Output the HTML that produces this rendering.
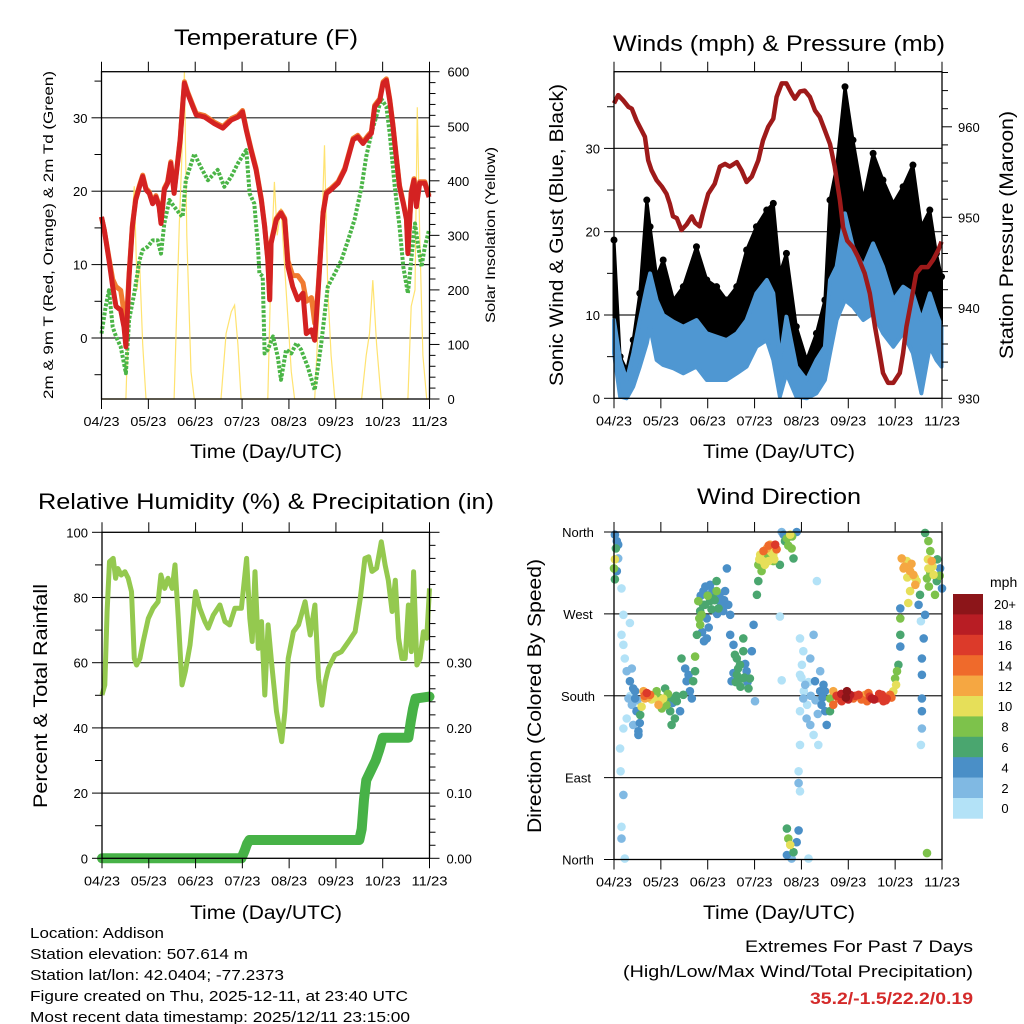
<!DOCTYPE html>
<html><head><meta charset="utf-8"><style>
html,body{margin:0;padding:0;background:#fff}
svg{display:block}
text{font-family:"Liberation Sans",sans-serif;fill:#000}
</style></head><body>
<svg id="chart" xmlns="http://www.w3.org/2000/svg" width="1024" height="1024" viewBox="0 0 1024 1024">
<rect x="0" y="0" width="1024" height="1024" fill="#fff"/>
<g id="g1"></g>
<g id="g2"></g>
<g id="g3"></g>
<g id="g4"></g>
<text x="266" y="45" font-size="22" text-anchor="middle" textLength="184" lengthAdjust="spacingAndGlyphs">Temperature (F)</text>
<text x="779" y="51" font-size="22" text-anchor="middle" textLength="332" lengthAdjust="spacingAndGlyphs">Winds (mph) &amp; Pressure (mb)</text>
<text x="266" y="509" font-size="22" text-anchor="middle" textLength="456" lengthAdjust="spacingAndGlyphs">Relative Humidity (%) &amp; Precipitation (in)</text>
<text x="779" y="504" font-size="22" text-anchor="middle" textLength="164" lengthAdjust="spacingAndGlyphs">Wind Direction</text>
<text x="266" y="458" font-size="19" text-anchor="middle" textLength="152" lengthAdjust="spacingAndGlyphs">Time (Day/UTC)</text>
<text x="779" y="458" font-size="19" text-anchor="middle" textLength="152" lengthAdjust="spacingAndGlyphs">Time (Day/UTC)</text>
<text x="266" y="919" font-size="19" text-anchor="middle" textLength="152" lengthAdjust="spacingAndGlyphs">Time (Day/UTC)</text>
<text x="779" y="919" font-size="19" text-anchor="middle" textLength="152" lengthAdjust="spacingAndGlyphs">Time (Day/UTC)</text>
<text transform="translate(53,235) rotate(-90)" font-size="14" text-anchor="middle" textLength="328" lengthAdjust="spacingAndGlyphs">2m &amp; 9m T (Red, Orange) &amp; 2m Td (Green)</text>
<text transform="translate(495,235) rotate(-90)" font-size="14" text-anchor="middle" textLength="176" lengthAdjust="spacingAndGlyphs">Solar Insolation (Yellow)</text>
<text transform="translate(563,235) rotate(-90)" font-size="19" text-anchor="middle" textLength="302" lengthAdjust="spacingAndGlyphs">Sonic Wind &amp; Gust (Blue, Black)</text>
<text transform="translate(1013,235) rotate(-90)" font-size="19" text-anchor="middle" textLength="248" lengthAdjust="spacingAndGlyphs">Station Pressure (Maroon)</text>
<text transform="translate(47,696) rotate(-90)" font-size="19" text-anchor="middle" textLength="224" lengthAdjust="spacingAndGlyphs">Percent &amp; Total Rainfall</text>
<text transform="translate(541,696) rotate(-90)" font-size="19" text-anchor="middle" textLength="274" lengthAdjust="spacingAndGlyphs">Direction (Colored By Speed)</text>
<g font-size="15">
<text x="30" y="938" textLength="134" lengthAdjust="spacingAndGlyphs">Location: Addison</text>
<text x="30" y="959" textLength="218" lengthAdjust="spacingAndGlyphs">Station elevation: 507.614 m</text>
<text x="30" y="980" textLength="254" lengthAdjust="spacingAndGlyphs">Station lat/lon: 42.0404; -77.2373</text>
<text x="30" y="1001" textLength="378" lengthAdjust="spacingAndGlyphs">Figure created on Thu, 2025-12-11, at 23:40 UTC</text>
<text x="30" y="1022" textLength="380" lengthAdjust="spacingAndGlyphs">Most recent data timestamp: 2025/12/11 23:15:00</text>
</g>
<text x="973" y="952" font-size="17" text-anchor="end" textLength="228" lengthAdjust="spacingAndGlyphs">Extremes For Past 7 Days</text>
<text x="973" y="977" font-size="17" text-anchor="end" textLength="350" lengthAdjust="spacingAndGlyphs">(High/Low/Max Wind/Total Precipitation)</text>
<text x="973" y="1004" font-size="17" font-weight="bold" text-anchor="end" textLength="163" lengthAdjust="spacingAndGlyphs" style="fill:#d42a2a">35.2/-1.5/22.2/0.19</text>
</svg>
<script>
// ---------- Data ----------
const dayLabels = ["04/23","05/23","06/23","07/23","08/23","09/23","10/23","11/23"];
// Temperature (days, F)
const tempT = [0,0.06,0.16,0.24,0.31,0.41,0.48,0.52,0.59,0.66,0.73,0.81,0.88,0.95,1.02,1.09,1.16,1.23,1.27,1.34,1.41,1.48,1.55,1.63,1.68,1.73,1.77,1.84,1.95,2.02,2.20,2.41,2.59,2.77,2.91,3.01,3.09,3.19,3.30,3.41,3.48,3.55,3.59,3.62,3.73,3.83,3.91,3.98,4.08,4.19,4.30,4.37,4.48,4.55,4.62,4.73,4.80,4.90,5.05,5.19,5.37,5.47,5.58,5.69,5.76,5.83,5.94,6.01,6.08,6.15,6.22,6.29,6.36,6.44,6.51,6.54,6.61,6.67,6.72,6.79,6.90,6.99];
const temp2m = [16.5,14.7,10.6,7.0,4.3,3.8,1.5,-1.2,8.4,15.2,18.8,20.6,22.0,20.2,19.7,18.3,19.2,17.9,15.6,20.2,21.1,23.8,19.7,24.2,27.0,31.5,34.7,33.3,31.5,30.4,30.1,29.2,28.6,29.7,30.1,30.8,28.3,25.6,22.9,18.8,15.2,10.6,5.2,12.9,16.1,17.0,16.1,9.7,7.0,5.2,6.1,0.6,1.1,-0.3,6.1,17.0,19.7,20.2,21.1,22.9,27.0,27.4,26.5,27.4,27.9,31.5,32.4,34.7,35.1,32.4,28.8,24.7,20.6,18.3,16.1,11.5,19.7,21.5,17.9,21.1,21.1,19.2];
const temp9m = [16.5,14.7,10.9,8.0,7.0,6.5,3.5,1.0,8.8,15.4,19.0,20.8,22.2,20.4,19.9,18.5,19.4,18.1,15.8,20.4,21.3,24.0,19.9,24.4,27.2,31.7,34.9,33.5,31.7,30.6,30.3,29.4,28.8,29.9,30.3,31.0,28.5,25.8,23.1,19.0,15.4,10.8,5.4,13.1,16.3,17.2,16.3,10.5,8.5,8.5,7.5,5.0,5.5,2.0,6.5,17.2,19.9,20.4,21.3,23.1,27.2,27.6,26.7,27.6,28.1,31.7,32.6,34.9,35.3,32.6,29.0,24.9,20.8,18.5,16.3,11.7,19.9,21.7,18.1,21.3,21.3,19.4];
const dewT = [0,0.09,0.16,0.24,0.31,0.41,0.52,0.59,0.70,0.81,0.88,0.98,1.09,1.20,1.27,1.34,1.45,1.55,1.66,1.73,1.80,1.98,2.12,2.27,2.48,2.62,2.77,2.91,3.09,3.16,3.26,3.34,3.37,3.44,3.48,3.55,3.66,3.76,3.83,3.94,4.05,4.16,4.26,4.40,4.55,4.62,4.69,4.83,4.98,5.12,5.26,5.40,5.55,5.65,5.76,5.90,5.97,6.08,6.15,6.26,6.36,6.44,6.54,6.61,6.69,6.76,6.83,6.90,6.99];
const dewV = [0.6,4.3,6.5,1.5,0.2,-1.2,-4.8,2.5,6.1,10.6,12.0,12.4,13.3,13.3,11.5,15.6,18.8,17.9,17.0,16.5,21.5,25.1,23.3,21.5,22.9,20.6,22.0,23.8,25.6,19.7,18.3,12.4,8.8,8.4,-2.1,-1.6,0.2,-2.5,-5.7,-1.6,-2.1,-0.7,-1.6,-3.9,-7.1,-3.9,-0.7,7.0,8.8,10.6,13.3,16.1,20.6,24.7,27.9,31.0,32.6,31.5,27.9,20.6,15.2,9.7,6.1,10.6,15.6,12.4,9.7,12.4,14.7];
const solarT = [0,0.52,0.63,0.70,0.76,0.81,0.88,0.95,1.55,1.66,1.71,1.77,1.82,1.91,1.98,2.55,2.66,2.77,2.84,2.91,2.98,3.55,3.62,3.69,3.75,3.83,3.94,4.05,4.12,4.55,4.66,4.76,4.83,4.90,4.98,5.55,5.65,5.72,5.79,5.87,5.97,6.54,6.61,6.69,6.74,6.79,6.86,6.94,7.0];
const solarV = [0,0,300,390,200,255,100,0,0,320,430,600,300,50,0,0,120,160,172,100,0,0,250,398,300,350,200,50,0,0,200,465,200,80,0,0,80,120,218,100,0,0,170,200,535,300,80,0,0];
// Winds
const windT = [0,0.13,0.27,0.41,0.55,0.70,0.77,0.91,1.05,1.27,1.48,1.76,1.98,2.19,2.40,2.62,2.83,3.04,3.26,3.40,3.54,3.68,3.89,4.11,4.32,4.50,4.61,4.75,4.93,5.10,5.32,5.53,5.74,5.96,6.17,6.38,6.56,6.74,6.88,6.99];
const windLo = [5.4,0.2,0,1.4,3.8,6.6,8.6,4.6,4,3.6,3,3.8,2.2,2.2,2.2,3,3.8,6.2,7,4.6,0.2,3,0.2,0,0.6,2.2,5.4,9.4,11.8,11,9.4,10.2,7.8,6.2,7.8,5.4,0.6,6.2,4.6,3.8];
const windHi = [9.4,4.6,2.2,5.4,9.4,13.4,15,11.8,10,9.2,8.6,9.4,7.8,7.4,7,7.8,9.4,12.6,14.2,12.6,4.6,9.8,3.8,2.2,4.6,6.2,14.2,15.8,22.2,18.2,15.8,18.6,15.8,11.8,13.4,12.6,9.4,12.6,10.2,8.6];
const gustHi = [19,5,3.4,7,12.6,23.8,20.6,14.6,16.6,11.8,13.4,18.2,14.2,13.4,11.8,13.4,17.8,20.6,22.6,23.4,15,17.4,8.6,4.6,7.8,11.8,23.8,27.8,37.4,31,23.8,29.4,26.2,23.4,25.4,28,20.6,22.6,17.4,14.6];
const presT = [0,0.09,0.20,0.31,0.38,0.48,0.59,0.66,0.73,0.80,0.91,1.02,1.12,1.19,1.26,1.34,1.44,1.55,1.66,1.73,1.83,1.90,2.01,2.15,2.26,2.37,2.47,2.62,2.72,2.83,2.94,3.08,3.18,3.29,3.40,3.47,3.58,3.68,3.79,3.86,3.97,4.07,4.18,4.29,4.39,4.50,4.61,4.71,4.82,4.89,4.98,5.10,5.21,5.35,5.46,5.57,5.67,5.74,5.85,5.96,6.10,6.17,6.24,6.35,6.45,6.56,6.70,6.81,6.92,6.99];
const presV = [962.6,963.5,962.9,962.2,962.0,960.7,959.6,958.9,956.3,955.2,954.1,953.4,952.6,951.5,950.1,949.9,948.6,949.2,950.1,949.4,949.0,950.5,952.6,953.7,955.6,955.9,955.6,956.1,955.2,953.9,954.5,956.3,958.5,960.0,960.9,963.3,964.8,964.8,963.7,963.1,963.9,964.0,963.3,961.8,961.1,959.6,958.1,955.6,951.9,948.9,947.4,946.7,945.6,943.8,941.6,937.9,935.0,932.8,931.7,931.7,932.8,935.0,937.9,940.9,943.8,944.5,944.5,945.3,946.4,947.3];
// Humidity & precip
const rhT = [0,0.06,0.11,0.16,0.24,0.29,0.34,0.41,0.49,0.56,0.63,0.69,0.74,0.81,0.88,0.99,1.09,1.20,1.26,1.34,1.41,1.50,1.56,1.63,1.71,1.78,1.88,1.95,2.00,2.09,2.20,2.27,2.38,2.52,2.63,2.73,2.84,2.98,3.09,3.16,3.21,3.27,3.34,3.41,3.48,3.55,3.63,3.73,3.84,3.91,3.98,4.09,4.20,4.34,4.45,4.55,4.63,4.70,4.77,4.84,4.98,5.12,5.27,5.41,5.52,5.62,5.70,5.77,5.87,5.97,6.05,6.12,6.20,6.27,6.34,6.41,6.48,6.55,6.61,6.66,6.73,6.80,6.87,6.94,7.0];
const rhV = [50.1,53.2,75.7,91.0,92.0,85.9,88.9,86.9,87.9,85.9,81.8,61.3,59.3,61.3,66.5,73.6,76.7,78.7,86.9,82.8,85.9,82.8,90.0,73.6,53.2,57.3,65.4,74.6,81.8,76.7,72.6,70.6,74.6,77.7,72.6,71.6,76.7,76.7,92.0,73.6,66.5,87.9,64.4,72.6,50.1,71.6,59.3,45.0,35.8,45.0,61.3,69.5,71.6,78.7,68.5,77.7,55.2,47.0,54.2,58.3,62.4,63.4,66.5,69.5,79.8,92.0,92.5,88.0,89.0,97.1,90.0,85.3,75.7,85.3,67.5,61.3,61.3,77.7,63.4,87.9,59.3,61.3,69.5,67.5,82.8];
const rainT = [0,2.98,3.05,3.10,3.15,5.50,5.55,5.60,5.65,5.75,5.85,5.92,6.00,6.55,6.60,6.65,6.70,7.0];
const rainV = [0,0,0.012,0.022,0.028,0.028,0.045,0.09,0.12,0.135,0.15,0.165,0.185,0.185,0.21,0.23,0.245,0.248];
// Wind direction (days, degrees, mph)
const dirT = [0.02,0.06,0.04,0.02,0,0.06,0.09,0.02,0.09,0.16, 0.20,0.34,0.16,0.20,0.23,0.27,0.38,0.34,0.41,0.31,0.38,0.48,0.27,0.41,0.52,0.20,0.13,0.14,0.20,0.16,0.16,0.23,0.52,0.45, 0.63,0.70,0.77,0.66,0.59,0.56,0.84,0.91,0.98,1.05,1.09,1.12,1.02,1.20,1.23,1.27,1.34,1.41,1.30,0.95, 1.44,1.52,1.55,1.62,1.66,1.73,1.73,1.69,1.59,1.48, 1.80,1.84,1.91,1.94,1.98,2.05,2.12,2.16,2.19,2.26,2.33,2.37,2.44,2.41,1.84,1.77,1.98,2.05,2.19,1.87,2.23,2.48, 2.48,2.55,2.62,2.69,2.76,2.83,2.90,2.73,2.51,2.94,2.98,3.01,2.76,2.62,2.87, 3.05,3.08,3.08,3.12,3.19,3.26,3.33,3.40,3.44,3.47,3.40,3.30,3.54,3.15,3.22,3.62,3.69,3.76,3.79,3.83,3.90,3.58,4.33,3.54,3.58, 3.69,3.72,3.76,3.83,3.69,3.90,3.94,3.79,4.15, 3.97,4.04,4.01,3.97,4.08,4.04,3.97,4.11,4.19,4.26,4.36,3.97,4.26,4.19,4.40,4.29,4.40,4.43,4.51,4.54,4.47,3.94,3.94,3.97, 4.61,4.68,4.79,4.90,4.97,5.04,5.11,5.22,5.32,5.43,5.50,5.61,5.72,5.82,5.89,5.96,6.02,6.04,6.07,4.61,4.68,4.86,5.40,5.75,6.00,6.11,6.11,6.11,6.11, 6.14,6.18,6.25,6.32,6.39,6.43,6.32,6.46,6.53,6.50,6.28,6.64,6.71,6.75,6.78,6.71,6.82,6.89,6.96,7.0,6.68,6.85,6.64,6.61,6.57,6.57,6.57,6.57,6.57,6.55,6.55,6.68,
 1.85,1.90,1.95,2.00,2.08,2.10,2.15,2.20,2.25,2.30,2.35,1.82,1.88,1.92,2.02, 2.55,2.60,2.65,2.70,2.78,2.80,2.85,2.58, 0.65,0.72,0.80,0.88,0.96,1.10,1.15,1.25,1.33,0.45,0.50,0.40,0.35,0.55, 4.75,4.85,4.95,5.00,5.15,5.28,5.36,5.46,5.55,5.66,5.80,5.92, 4.00,4.05,4.12,4.20,4.30,4.35,4.15,4.45,4.50, 6.20,6.26,6.35,6.42,6.70,6.75,6.80,6.90,6.95,6.72, 3.10,3.18,3.25,3.35,3.42,3.30,3.65,3.72,3.80];
const dirD = [357,350,342,330,320,317,331,308,346,298, 269,260,247,236,221,207,210,196,188,177,170,163,155,148,141,144,122,97,71,36,23,1,137,177, 185,183,181,177,168,159,177,185,174,177,188,170,166,163,148,177,174,163,155,170, 221,210,196,185,177,223,207,196,203,181, 284,273,295,280,265,284,287,273,295,284,273,295,280,320,258,247,243,302,306,269,276,269, 247,236,221,214,229,207,199,199,196,229,258,174,243,203,188, 291,306,324,335,339,342,346,335,346,341,328,328,324,317,324,357,353,357,342,331,360,360,306,267,197, 34,23,16,8,5,19,32,1,1, 243,229,214,203,192,177,163,155,148,137,126,126,247,221,207,196,185,170,163,148,192,97,84,75, 177,185,177,181,185,181,177,181,177,183,177,177,181,177,181,185,192,207,214,163,170,174,174,174,199,247,265,276,234, 331,320,328,317,313,302,295,306,291,280,282,359,350,339,328,320,313,306,320,298,309,291,269,243,221,203,177,163,144,126,262,7,
 290,280,300,290,275,295,285,270,290,280,285,265,250,240,255, 205,195,210,190,200,215,195,225, 180,178,176,180,178,176,182,172,180,185,175,170,180,150, 180,182,178,176,180,176,181,179,176,182,175,178, 200,185,170,180,175,160,195,178,185, 322,310,325,310,330,315,322,330,312,300, 330,328,333,338,330,345,350,345,355];
const dirS = [4,4,6,10,8,4,2,6,4,0, 0,0,0,0,0,2,2,4,4,2,2,4,0,2,4,0,0,0,2,0,2,0, 4,4, 12,16,14,12,10,6,10,8,10,10,6,8,8,6,6,6,6,4,6,12, 6,4,4,4,4,8,6,6,4,6, 8,6,4,6,4,6,6,4,8,4,4,4,4,4,8,6,4,4,6,8,6,4, 4,4,6,6,6,4,6,6,4,4,4,2,6,6,6, 6,6,8,10,14,12,12,10,16,14,8,10,6,8,10,4,8,10,8,6,4,2,0,0,0, 6,8,10,6,4,4,4,2,0, 0,0,0,0,2,2,0,2,2,0,0,0,2,2,2,4,4,4,4,4,4,0,2,0, 8,12,14,16,20,18,14,16,12,14,18,16,16,16,14,10,10,8,6,6,14,16,14,16,8,6,8,4,4, 12,12,10,12,12,12,10,10,6,4,10,6,8,8,12,10,10,6,4,4,8,8,4,4,4,4,4,4,2,0,0,8,
 4,6,4,8,6,4,6,4,4,4,4,8,4,4,4, 4,6,6,6,6,4,4,6, 14,12,10,8,8,6,8,4,6,4,2,0,0,4, 16,18,20,18,16,14,12,16,18,16,16,14, 0,0,0,2,2,2,0,4,4, 12,10,12,10,10,8,10,6,8,8, 10,10,8,10,10,14,6,8,8];
const speedLabels = ["0","2","4","6","8","10","12","14","16","18","20+"];

// ---------- Helpers ----------
const NS = "http://www.w3.org/2000/svg";
function mk(parent, tag, attrs, txt){
  const e = document.createElementNS(NS, tag);
  for (const k in attrs) e.setAttribute(k, attrs[k]);
  if (txt !== undefined) e.textContent = txt;
  parent.appendChild(e);
  return e;
}
function lin(d0,d1,r0,r1){ return v => r0 + (v-d0)/(d1-d0)*(r1-r0); }
function pathD(xs, ys, fx, fy){ return xs.map((t,i)=>(i?"L":"M")+fx(t).toFixed(1)+","+fy(ys[i]).toFixed(1)).join(""); }

function frame(g, x0, x1, y0, y1, fx){
  for (let i=0;i<dayLabels.length;i++){
    const x = fx(i);
    const tt = mk(g,"line",{x1:x,x2:x,y1:y0-10,y2:y0,stroke:"#000","stroke-width":1});
    
    
    const tb = mk(g,"line",{x1:x,x2:x,y1:y1,y2:y1+10,stroke:"#000","stroke-width":1});
    
    
    const lb = mk(g,"text",{x:x,y:y1+27,"font-size":13,"text-anchor":"middle",textLength:36,lengthAdjust:"spacingAndGlyphs"},dayLabels[i]);
    
    
  }
}
function border(g,x0,x1,y0,y1){
  const r = mk(g,"rect",{x:x0,y:y0,width:x1-x0,height:y1-y0,fill:"none",stroke:"#000","stroke-width":1.3});
  
  
}
function hgrid(g,x0,x1,y){
  const l = mk(g,"line",{x1:x0,x2:x1,y1:y,y2:y,stroke:"#222","stroke-width":1.2});
  
  
}
function ytick(g,x,y,len,label,anchor,dx,side){
  const l = mk(g,"line",{x1:x,x2:x+len,y1:y,y2:y,stroke:"#000","stroke-width":1});
  
  
  if (label!==null){
    const t = mk(g,"text",{x:x+dx,y:y+5,"font-size":13,"text-anchor":anchor},label);
    
    
  }
}

// ---------- Panel 1: Temperature ----------
(function(){
  const g = document.getElementById("g1");
  const X0=101.5,X1=429.5,Y0=71.7,Y1=399;
  const fx = lin(0,7,X0,X1), fy = lin(0,30,338,117.8), fs = lin(0,600,Y1,Y0);
  for (const v of [0,10,20,30]) hgrid(g,X0,X1,fy(v));
  const sol = mk(g,"path",{d:pathD(solarT,solarV,fx,fs),fill:"none",stroke:"#ffe060","stroke-width":1.2,opacity:0.9});
  
  
  const dew = mk(g,"path",{d:pathD(dewT,dewV,fx,fy),fill:"none",stroke:"#4bb547","stroke-width":4,"stroke-dasharray":"3 1.6","stroke-linejoin":"round"});
  
  
  const t9 = mk(g,"path",{d:pathD(tempT,temp9m,fx,fy),fill:"none",stroke:"#f07a30","stroke-width":5,"stroke-linejoin":"round"});
  
  
  const t2 = mk(g,"path",{d:pathD(tempT,temp2m,fx,fy),fill:"none",stroke:"#d42222","stroke-width":5,"stroke-linejoin":"round"});
  
  
  border(g,X0,X1,Y0,Y1);
  frame(g,X0,X1,Y0,Y1,lin(0,7,X0,X1));
  for (let v=-5; v<=35; v+=5){ const y=fy(v); if (y<Y0||y>Y1) continue; ytick(g,X0,y,-(v%10===0?10:7),v%10===0?String(v):null,"end",-14,"left"); }
  for (let v=0; v<=600; v+=20){ const y=fs(v); ytick(g,X1,y,v%100===0?10:6,v%100===0?String(v):null,"start",18,"right"); }
})();

// ---------- Panel 2: Winds ----------
(function(){
  const g = document.getElementById("g2");
  const X0=614,X1=942,Y0=71.7,Y1=398.3;
  const fx = lin(0,7,X0,X1), fy = lin(0,10,Y1,315.0), fp = lin(930,960,Y1,126.8);
  for (const v of [10,20,30]) hgrid(g,X0,X1,fy(v));
  let d = pathD(windT,gustHi,fx,fy);
  for (let i=windT.length-1;i>=0;i--) d += "L"+fx(windT[i]).toFixed(1)+","+fy(windHi[i]).toFixed(1);
  const gp = mk(g,"path",{d:d+"Z",fill:"#000",stroke:"#000","stroke-width":3,"stroke-linejoin":"round"});
  
  
  windT.forEach((t,i)=>{
    const c = mk(g,"circle",{cx:fx(t),cy:fy(gustHi[i]),r:3.5,fill:"#000"});
    
    
  });
  let b = pathD(windT,windHi,fx,fy);
  for (let i=windT.length-1;i>=0;i--) b += "L"+fx(windT[i]).toFixed(1)+","+fy(windLo[i]).toFixed(1);
  const bp = mk(g,"path",{d:b+"Z",fill:"#4f97d2",stroke:"#4f97d2","stroke-width":4,"stroke-linejoin":"round"});
  
  
  const pr = mk(g,"path",{d:pathD(presT,presV,fx,fp),fill:"none",stroke:"#9e1a1a","stroke-width":4.5,"stroke-linejoin":"round"});
  
  
  border(g,X0,X1,Y0,Y1);
  frame(g,X0,X1,Y0,Y1,lin(0,7,X0,X1));
  for (let v=0; v<=35; v+=5){ const y=fy(v); ytick(g,X0,y,-(v%10===0?10:7),v%10===0?String(v):null,"end",-14,"left"); }
  for (let v=930; v<=966; v+=2){ const y=fp(v); if (y<Y0-0.5) continue; ytick(g,X1,y,v%10===0?10:6,v%10===0?String(v):null,"start",16,"right"); }
})();

// ---------- Panel 3: Humidity ----------
(function(){
  const g = document.getElementById("g3");
  const X0=102,X1=429.5,Y0=532.3,Y1=858.3;
  const fx = lin(0,7,X0,X1), fy = lin(0,100,Y1,Y0), fr = lin(0,0.1,Y1,793.1);
  for (const v of [20,40,60,80]) hgrid(g,X0,X1,fy(v));
  const rh = mk(g,"path",{d:pathD(rhT,rhV,fx,fy),fill:"none",stroke:"#94c94f","stroke-width":5,"stroke-linejoin":"round"});
  
  
  const rn = mk(g,"path",{d:pathD(rainT,rainV,fx,fr),fill:"none",stroke:"#47b247","stroke-width":10,"stroke-linejoin":"round","stroke-linecap":"round"});
  
  
  border(g,X0,X1,Y0,Y1);
  frame(g,X0,X1,Y0,Y1,lin(0,7,X0,X1));
  for (let v=0; v<=100; v+=10){ const y=fy(v); ytick(g,X0,y,-(v%20===0?10:7),v%20===0?String(v):null,"end",-14,"left"); }
  for (let k=0; k<=25; k++){ const v=k*0.02; const y=fr(v); if (y<Y0-0.5) continue; ytick(g,X1,y,k%5===0?10:6,k%5===0&&k<20?v.toFixed(2):null,"start",17,"right"); }
})();

// ---------- Panel 4: Wind direction ----------
(function(){
  const g = document.getElementById("g4");
  const X0=614,X1=942,Y0=532,Y1=859.5;
  const fx = lin(0,7,X0,X1), fy = lin(0,360,Y1,Y0);
  const cols = ["#b3e2f7","#80b9e3","#4a8fc7","#4aa66f","#7dc24b","#e6df59","#f5a742","#ef6a2b","#dc3a2a","#b81d24","#8c1519"];
  for (const v of [90,180,270]) hgrid(g,X0,X1,fy(v));
  const order = dirS.map((s,i)=>i).sort((a,b)=>dirS[a]-dirS[b]);
  for (const i of order){
    const bin = Math.min(10, Math.floor(dirS[i]/2));
    const c = mk(g,"circle",{cx:fx(dirT[i]).toFixed(1),cy:fy(dirD[i]).toFixed(1),r:4.3,fill:cols[bin]});
    
    
  }
  border(g,X0,X1,Y0,Y1);
  frame(g,X0,X1,Y0,Y1,lin(0,7,X0,X1));
  const names = ["North","East","South","West","North"];
  names.forEach((n,i)=>{ const y=fy(i*90); ytick(g,X0,y,-10,null,"end",0,"left");
    const t = mk(g,"text",{x:578,y:y+5,"font-size":13,"text-anchor":"middle"},n);
    
    
  });
  const cb = mk(g,"g",{});
  
  
  const h = 20.4, top = 594;
  const u = mk(cb,"text",{x:990,y:587,"font-size":14,"text-anchor":"start"},"mph");
  
  
  for (let k=0;k<11;k++){
    const idx = 10-k;
    const r = mk(cb,"rect",{x:953,y:top+k*h,width:30,height:h+0.3,fill:cols[idx]});
    
    
    const t = mk(cb,"text",{x:1005,y:top+k*h+h/2+5,"font-size":13,"text-anchor":"middle"},speedLabels[idx]);
    
    
  }
})();
</script>
</body></html>
